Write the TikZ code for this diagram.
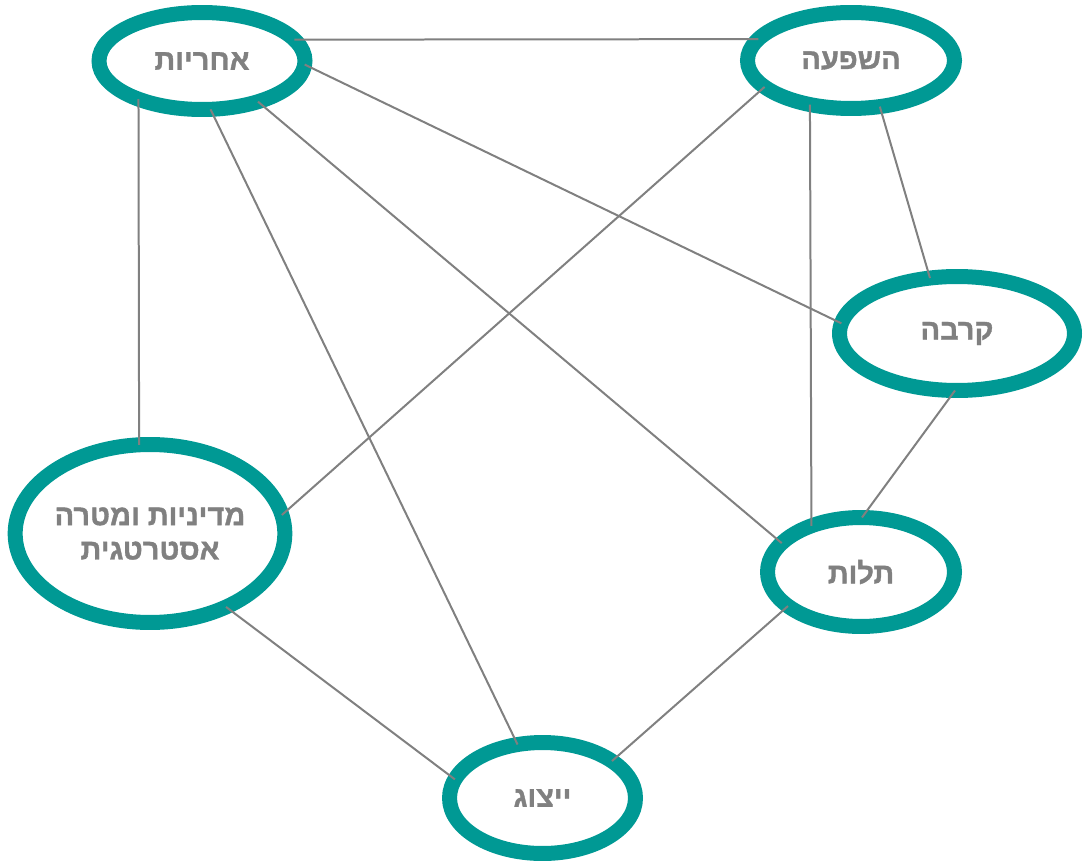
\documentclass[tikz,border=0pt]{standalone}
\usepackage{fontspec}
\setmainfont{Liberation Sans}
\newfontfamily\hebfont[Script=Hebrew, FakeBold=1.2]{Liberation Sans Bold}
\TeXXeTstate=1
\usepackage{tikz}
\usetikzlibrary{shapes.geometric}
\usepackage{xcolor}
\definecolor{ringteal}{HTML}{009994}
\definecolor{labelgray}{HTML}{808080}
\definecolor{linkgray}{HTML}{808080}

\begin{document}
\begin{tikzpicture}[
  x=0.02cm, y=-0.02cm,
  topic/.style={draw=ringteal, ellipse, line width=0.3cm,
    inner sep=0pt, outer sep=0pt, text=labelgray, align=center,
    font=\hebfont\fontsize{16.5}{19.5}\selectfont},
  link/.style={draw=linkgray, line width=0.04cm}
]
  \useasboundingbox (0,0) rectangle (1084,861);
  % Topics
  \node[topic, minimum width=4.12cm, minimum height=1.94cm]
    (resp) at (202,61) {\beginR אחריות\endR};
  \node[topic, minimum width=4.14cm, minimum height=1.92cm]
    (infl) at (851,60.5) {\beginR השפעה\endR};
  \node[topic, minimum width=4.7cm, minimum height=2.28cm]
    (prox) at (957,333.5) {\beginR קרבה\endR};
  \node[topic, minimum width=5.3cm, minimum height=3.56cm]
    (policy) at (150,533.5)
    {\beginR מדיניות ומטרה\endR\\\beginR אסטרטגית\endR};
  \node[topic, minimum width=3.74cm, minimum height=2.18cm]
    (depend) at (861,572) {\beginR תלות\endR};
  \node[topic, minimum width=3.72cm, minimum height=2.22cm]
    (repr) at (542.5,798) {\beginR ייצוג\endR};
  % Links
  \draw[link] (resp.13) -- (infl.167);
  \draw[link] (resp.-2) -- (prox.175);
  \draw[link] (resp.211) -- (policy.97);
  \draw[link] (resp.-80) -- (repr.115);
  \draw[link] (resp.-36) -- (depend.160);
  \draw[link] (infl.197) -- (policy.8);
  \draw[link] (infl.-133) -- (depend.137);
  \draw[link] (infl.-58) -- (prox.116);
  \draw[link] (prox.-92) -- (depend.89);
  \draw[link] (policy.-44) -- (repr.168);
  \draw[link] (depend.205) -- (repr.28);
\end{tikzpicture}
\end{document}
